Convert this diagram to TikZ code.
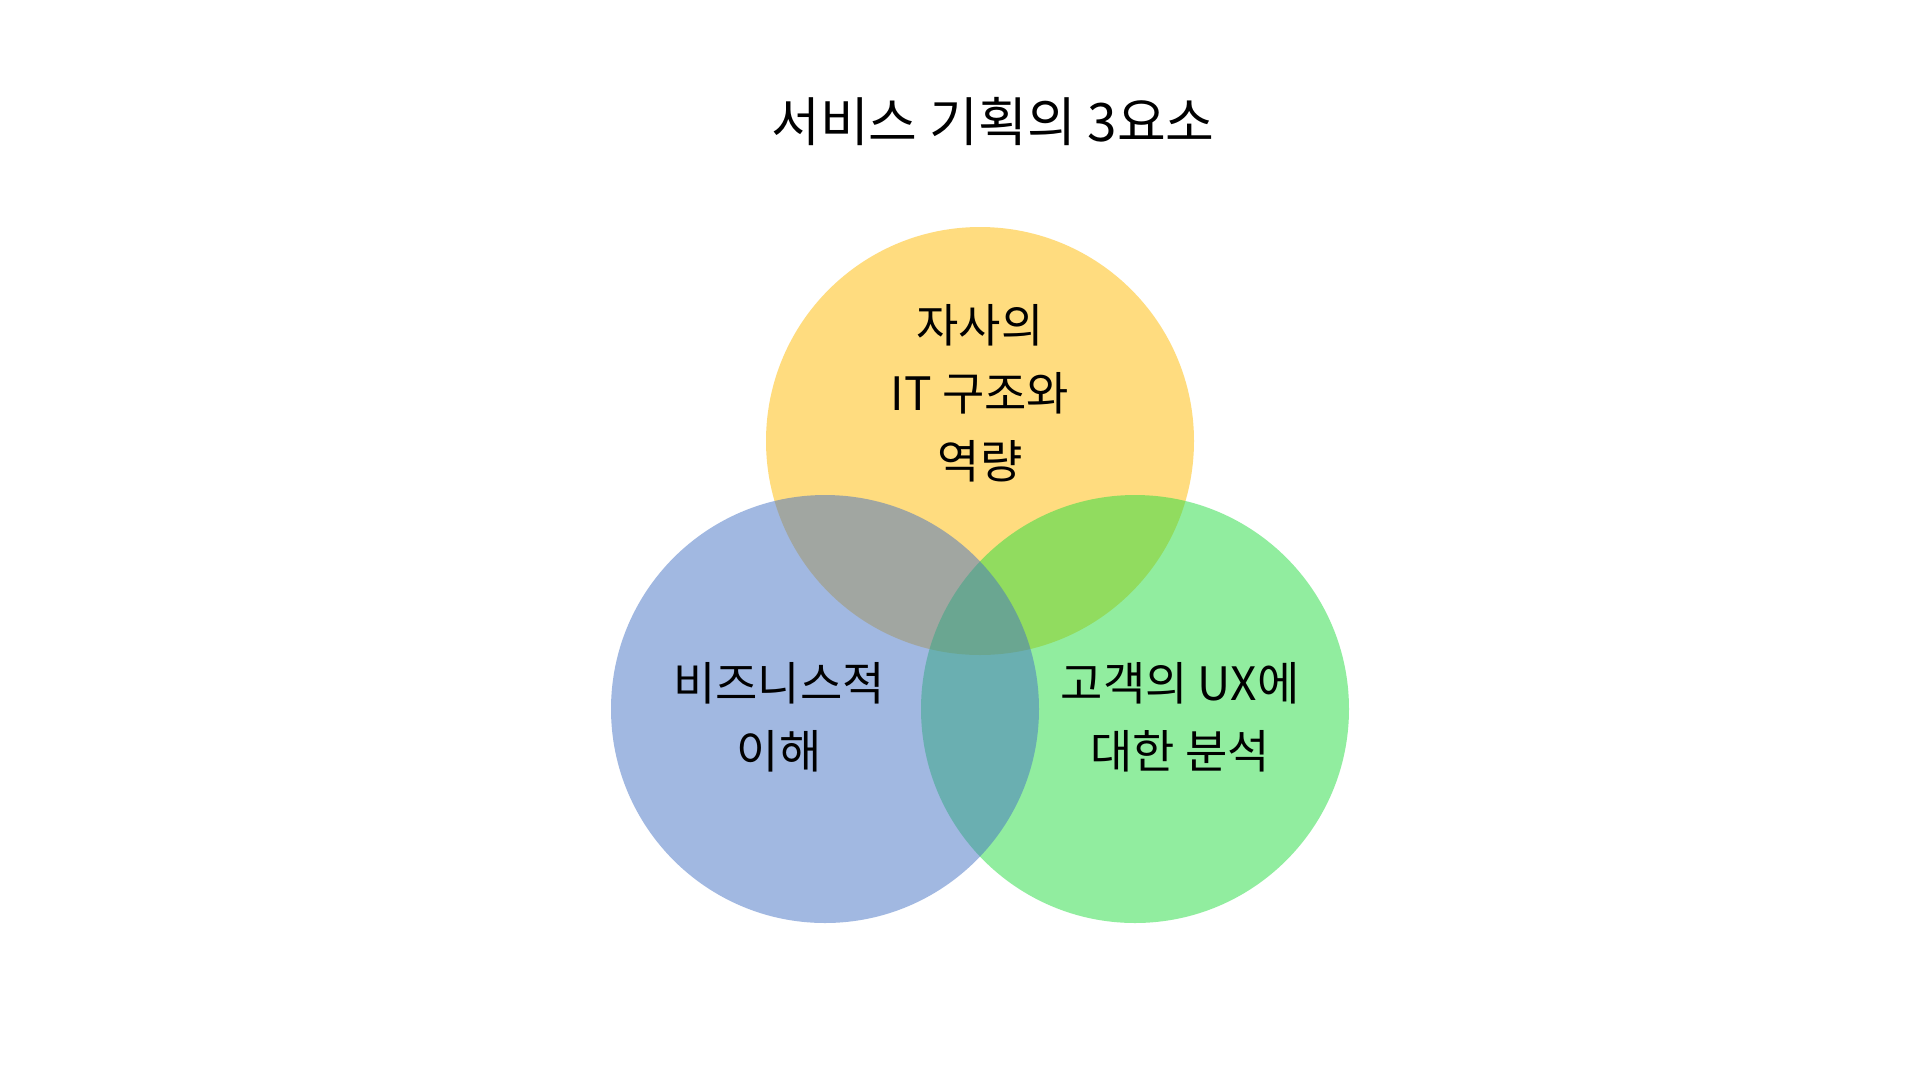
\documentclass[tikz,border=0pt]{standalone}
\usepackage{fontspec}
\setmainfont{Noto Sans CJK KR}
\definecolor{cyellow}{RGB}{255,187,1}
\definecolor{cblue}{RGB}{68,114,196}
\definecolor{cgreen}{RGB}{37,221,65}
\begin{document}
\begin{tikzpicture}[x=1pt,y=-1pt,
  venn/.style={fill opacity=0.5,draw=none},
  lbl/.style={align=center,font=\fontsize{46}{68}\selectfont,text=black,inner sep=0pt},
  ttl/.style={font=\fontsize{53}{60}\selectfont,text=black,inner sep=0pt}]
\useasboundingbox[fill=white] (0,0) rectangle (1920,1080);
\fill[venn,cyellow] (980,441) circle[radius=214];
\fill[venn,cgreen] (1135,709) circle[radius=214];
\fill[venn,cblue] (825,709) circle[radius=214];
\node[ttl] (title) at (993,122) {서비스 기획의 3요소};
\node[lbl] (top) at (980,393) {자사의\\IT 구조와\\역량};
\node[lbl] (left) at (779,717) {비즈니스적\\이해};
\node[lbl] (right) at (1180,717) {고객의 UX에\\대한 분석};
\end{tikzpicture}
\end{document}
